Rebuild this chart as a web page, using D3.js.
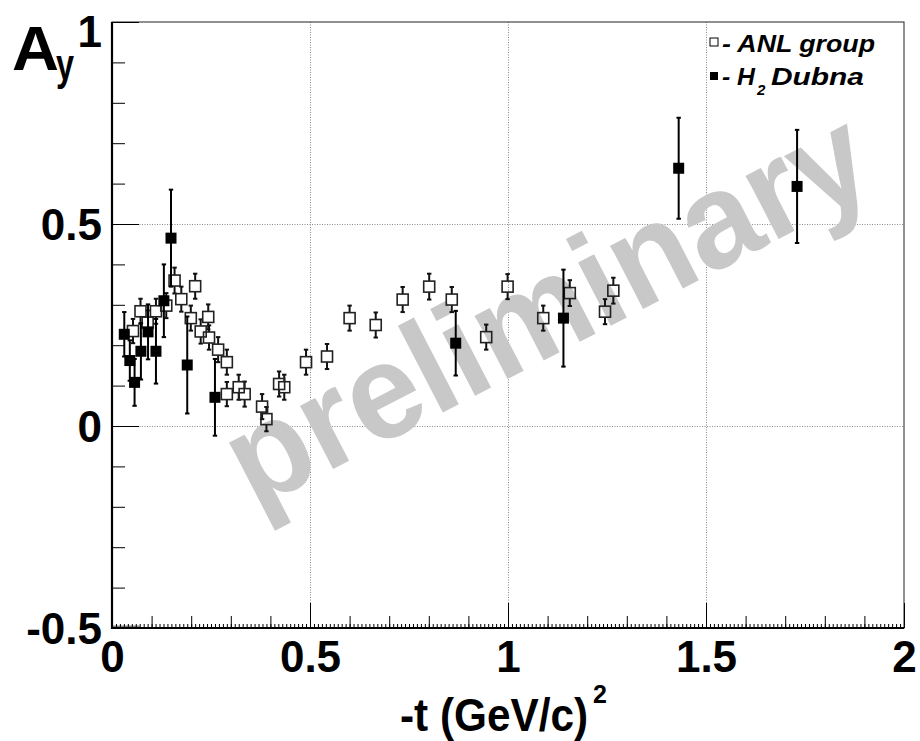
<!DOCTYPE html>
<html>
<head>
<meta charset="utf-8">
<script src="https://cdn.jsdelivr.net/npm/d3@7"></script>
<style>
  body { margin: 0; background: #fff; }
  text { font-family: "Liberation Sans", Arial, Helvetica, sans-serif; }
</style>
</head>
<body>
<svg id="chart" width="920" height="741"></svg>
<script>
// Analysing power A_y versus -t, two data sets
const anlT   = [0.053, 0.072, 0.090, 0.111, 0.137, 0.158, 0.175, 0.199, 0.210, 0.224, 0.243, 0.245, 0.268, 0.290, 0.290, 0.320, 0.335, 0.379, 0.390, 0.422, 0.435, 0.490, 0.543, 0.600, 0.666, 0.734, 0.801, 0.858, 0.945, 0.999, 1.089, 1.156, 1.245, 1.266];
const anlAy  = [0.235, 0.284, 0.256, 0.284, 0.298, 0.360, 0.314, 0.267, 0.346, 0.234, 0.270, 0.219, 0.189, 0.158, 0.079, 0.096, 0.079, 0.048, 0.017, 0.104, 0.096, 0.158, 0.172, 0.267, 0.250, 0.313, 0.345, 0.313, 0.220, 0.345, 0.267, 0.329, 0.283, 0.335];
const anlErr = [0.030, 0.031, 0.030, 0.031, 0.031, 0.032, 0.031, 0.031, 0.031, 0.030, 0.031, 0.030, 0.031, 0.031, 0.030, 0.031, 0.031, 0.031, 0.030, 0.031, 0.031, 0.031, 0.031, 0.031, 0.031, 0.031, 0.032, 0.031, 0.031, 0.031, 0.031, 0.032, 0.031, 0.032];

const dubnaT   = [0.031, 0.045, 0.057, 0.073, 0.091, 0.111, 0.131, 0.149, 0.190, 0.260, 0.868, 1.140, 1.431, 1.730];
const dubnaAy  = [0.227, 0.162, 0.108, 0.185, 0.233, 0.185, 0.310, 0.465, 0.151, 0.071, 0.205, 0.267, 0.638, 0.593];
const dubnaErr = [0.055, 0.050, 0.058, 0.070, 0.068, 0.080, 0.090, 0.120, 0.120, 0.095, 0.080, 0.120, 0.125, 0.140];

const xTickValues = [0, 0.5, 1, 1.5, 2];
const xTickLabels = ["0", "0.5", "1", "1.5", "2"];
const yTickValues = [-0.5, 0, 0.5, 1];
const yTickLabels = ["-0.5", "0", "0.5", "1"];

const legendLines = ["- ANL group", "- H", "2", "Dubna"];
const watermark = "preliminary";

const svg = d3.select("#chart");
svg.append("rect").attr("width", 920).attr("height", 741).attr("fill", "#fff");

const plotL = 112, plotR = 904, plotT = 22, plotB = 628;
const x = d3.scaleLinear().domain([0, 2]).range([plotL, plotR]);
const y = d3.scaleLinear().domain([-0.5, 1]).range([plotB, plotT]);

// dotted grid at the labelled ticks
const grid = svg.append("g").attr("stroke", "#8a8a8a").attr("stroke-width", 1).attr("stroke-dasharray", "1,1.5");
grid.selectAll("line.gx").data(xTickValues.slice(1, -1)).join("line")
  .attr("x1", d => Math.round(x(d)) + 0.5).attr("x2", d => Math.round(x(d)) + 0.5)
  .attr("y1", plotT).attr("y2", plotB);
grid.selectAll("line.gy").data(yTickValues.slice(1, -1)).join("line")
  .attr("x1", plotL).attr("x2", plotR)
  .attr("y1", d => Math.round(y(d)) + 0.5).attr("y2", d => Math.round(y(d)) + 0.5);

// watermark
svg.append("text")
  .attr("transform", "translate(254,510) rotate(-27.3)")
  .attr("font-size", 135).attr("font-weight", "bold")
  .attr("fill", "#c8c8c8")
  .attr("textLength", 705).attr("lengthAdjust", "spacingAndGlyphs")
  .text(watermark);

// small grey strip along the bottom edge near the origin
svg.append("rect")
  .attr("x", x(0)).attr("width", x(0.07) - x(0))
  .attr("y", plotB - 2.5).attr("height", 3).attr("fill", "#8c8c8c");

// ANL group: open squares with error bars drawn outside the marker
const half = 5.5, cap = 2.2;
const anl = anlT.map((t, i) => ({ t, v: anlAy[i], e: anlErr[i] }));
const gA = svg.append("g").attr("stroke", "#111").attr("stroke-width", 2);
anl.forEach(d => {
  const cx = x(d.t), cy = y(d.v), y1 = y(d.v + d.e), y2 = y(d.v - d.e);
  gA.append("line").attr("x1", cx).attr("x2", cx).attr("y1", y1).attr("y2", cy - half);
  gA.append("line").attr("x1", cx).attr("x2", cx).attr("y1", cy + half).attr("y2", y2);
  gA.append("line").attr("x1", cx - cap).attr("x2", cx + cap).attr("y1", y1).attr("y2", y1);
  gA.append("line").attr("x1", cx - cap).attr("x2", cx + cap).attr("y1", y2).attr("y2", y2);
});
gA.selectAll("rect").data(anl).join("rect")
  .attr("x", d => x(d.t) - half).attr("y", d => y(d.v) - half)
  .attr("width", 2 * half).attr("height", 2 * half)
  .attr("fill", "none").attr("stroke", "#222").attr("stroke-width", 1.6);

// H2 Dubna: filled squares with error bars
const dub = dubnaT.map((t, i) => ({ t, v: dubnaAy[i], e: dubnaErr[i] }));
const gD = svg.append("g").attr("stroke", "#000").attr("stroke-width", 2);
dub.forEach(d => {
  const cx = x(d.t), y1 = y(d.v + d.e), y2 = y(d.v - d.e);
  gD.append("line").attr("x1", cx).attr("x2", cx).attr("y1", y1).attr("y2", y2);
  gD.append("line").attr("x1", cx - cap).attr("x2", cx + cap).attr("y1", y1).attr("y2", y1);
  gD.append("line").attr("x1", cx - cap).attr("x2", cx + cap).attr("y1", y2).attr("y2", y2);
});
gD.selectAll("rect").data(dub).join("rect")
  .attr("x", d => x(d.t) - 5.5).attr("y", d => y(d.v) - 5.5)
  .attr("width", 11).attr("height", 11)
  .attr("fill", "#000").attr("stroke", "none");

// frame
svg.append("rect").attr("x", plotL).attr("y", plotT).attr("width", plotR - plotL).attr("height", plotB - plotT)
  .attr("fill", "none").attr("stroke", "#222").attr("stroke-width", 1);
svg.append("line").attr("x1", plotL).attr("x2", plotL).attr("y1", plotT).attr("y2", plotB + 1).attr("stroke", "#000").attr("stroke-width", 2.2);
svg.append("line").attr("x1", plotL).attr("x2", plotR).attr("y1", plotB).attr("y2", plotB).attr("stroke", "#000").attr("stroke-width", 2.2);

// tick marks drawn inward with d3 axes (three levels on x, two on y)
function styleTicks(g) {
  g.select(".domain").remove();
  g.selectAll(".tick line").attr("stroke", "#000").attr("stroke-width", 1);
}
svg.append("g").attr("transform", `translate(0,${plotB})`)
  .call(d3.axisBottom(x).tickValues(x.ticks(200)).tickSize(-4).tickFormat(""))
  .call(styleTicks);
svg.append("g").attr("transform", `translate(0,${plotB})`)
  .call(d3.axisBottom(x).tickValues(x.ticks(20)).tickSize(-12).tickFormat(""))
  .call(styleTicks);
const xAxis = svg.append("g").attr("transform", `translate(0,${plotB})`)
  .call(d3.axisBottom(x).tickValues(xTickValues).tickSize(-25)
        .tickFormat((d, i) => xTickLabels[i]))
  .call(styleTicks);
xAxis.selectAll(".tick text")
  .attr("y", 44).attr("dy", 0)
  .attr("font-size", 44).attr("font-weight", "bold").attr("fill", "#000");

svg.append("g").attr("transform", `translate(${plotL},0)`)
  .call(d3.axisLeft(y).tickValues(y.ticks(15)).tickSize(-13).tickFormat(""))
  .call(styleTicks);
const yAxis = svg.append("g").attr("transform", `translate(${plotL},0)`)
  .call(d3.axisLeft(y).tickValues(yTickValues).tickSize(-27)
        .tickFormat((d, i) => yTickLabels[i]))
  .call(styleTicks);
yAxis.selectAll(".tick text")
  .attr("x", -10).attr("dy", (d) => d === 1 ? "0.55em" : "0.36em")
  .attr("font-size", 44).attr("font-weight", "bold").attr("fill", "#000");

// axis titles
svg.append("text").attr("x", 12).attr("y", 70)
  .attr("font-weight", "bold").attr("font-size", 63).attr("fill", "#000")
  .attr("textLength", 47).attr("lengthAdjust", "spacingAndGlyphs")
  .text("A");
svg.append("text").attr("x", 56).attr("y", 80)
  .attr("font-weight", "bold").attr("font-size", 44).attr("fill", "#000")
  .attr("textLength", 18).attr("lengthAdjust", "spacingAndGlyphs")
  .text("y");

// x title, narrowed horizontally
svg.append("text").attr("transform", "translate(400,731) scale(0.9,1)")
  .attr("font-weight", "bold").attr("font-size", 47).attr("fill", "#000")
  .text("-t (GeV/c)");
svg.append("text").attr("x", 593).attr("y", 703)
  .attr("font-weight", "bold").attr("font-size", 25).attr("fill", "#000")
  .text("2");

// legend
const lg = svg.append("g").attr("font-weight", "bold").attr("font-style", "italic").attr("fill", "#000");
lg.append("rect").attr("x", 710).attr("y", 38).attr("width", 8).attr("height", 8)
  .attr("fill", "#fff").attr("stroke", "#000").attr("stroke-width", 1);
lg.append("text").attr("x", 722).attr("y", 52).attr("font-size", 24)
  .attr("textLength", 153).attr("lengthAdjust", "spacingAndGlyphs")
  .text(legendLines[0]);
lg.append("rect").attr("x", 710).attr("y", 72).attr("width", 8).attr("height", 8).attr("fill", "#000");
lg.append("text").attr("x", 722).attr("y", 85).attr("font-size", 24)
  .attr("textLength", 33).attr("lengthAdjust", "spacingAndGlyphs")
  .text(legendLines[1]);
lg.append("text").attr("x", 757).attr("y", 95).attr("font-size", 15)
  .text(legendLines[2]);
lg.append("text").attr("x", 771).attr("y", 85).attr("font-size", 24)
  .attr("textLength", 93).attr("lengthAdjust", "spacingAndGlyphs")
  .text(legendLines[3]);
</script>
</body>
</html>
